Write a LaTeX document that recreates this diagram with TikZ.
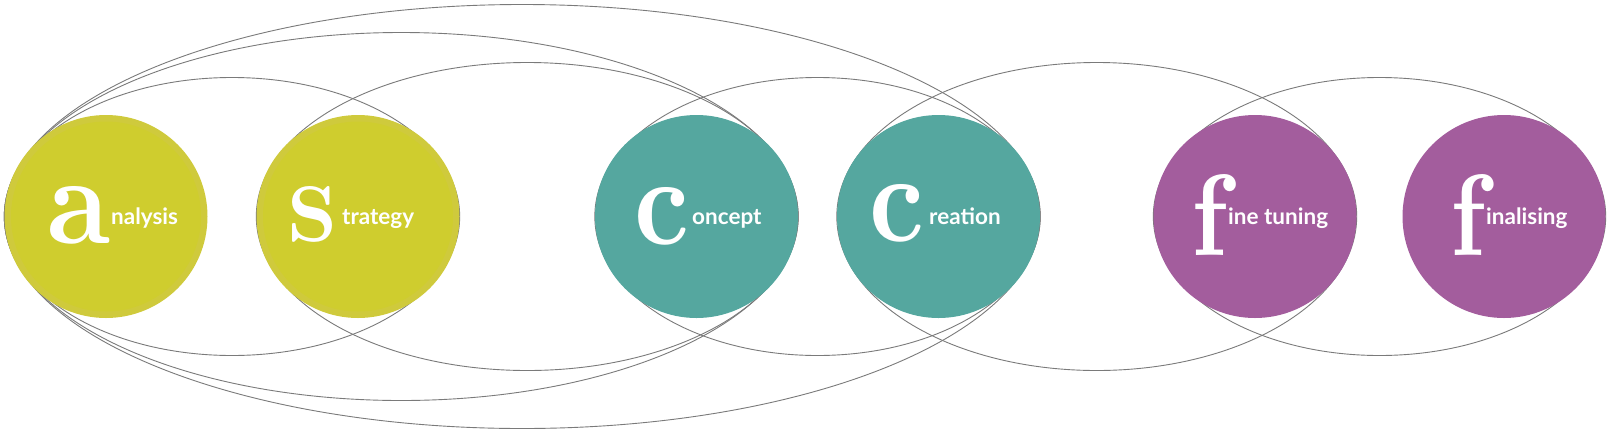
\documentclass[tikz,border=0pt]{standalone}
\usepackage{fontspec}
\usetikzlibrary{calc,backgrounds}
\newfontfamily\latofont{Lato}
\definecolor{cOlive}{HTML}{CFCD2E}
\definecolor{cOliveRim}{HTML}{CFCA3C}
\definecolor{cTeal}{HTML}{55A79F}
\definecolor{cPurple}{HTML}{A35D9D}
\definecolor{lineGray}{HTML}{7A7A7A}
\tikzset{
  stage/.style={circle, minimum size=203pt, inner sep=0pt, fill=#1},
  bigletter/.style={anchor=south west, inner sep=0pt, text=white, font=\rmfamily\bfseries},
  rest/.style={anchor=base west, inner sep=0pt, text=white, font=\latofont\bfseries\fontsize{22.5}{27}\selectfont},
  loopline/.style={draw=lineGray, line width=0.9pt},
}
\newcommand\loopellipse[3]{%
  \draw[loopline] let \p1=(#1.west), \p2=(#2.east) in
    ({(\x1+\x2)/2},\y1) ellipse [x radius={(\x2-\x1)/2}, y radius=#3];}
\begin{document}
\begin{tikzpicture}[x=1pt,y=1pt]
\useasboundingbox (0,0) rectangle (1611,-429);
% stages
\node[stage=cOliveRim] (an) at (106,-216.5) {};
\node[stage=cOliveRim] (st) at (358,-216.5) {};
\fill[cOlive] (an.center) circle (95pt);
\fill[cOlive] (st.center) circle (95pt);
\node[stage=cTeal] (co) at (696.5,-216.5) {};
\node[stage=cTeal] (cr) at (938.5,-216.5) {};
\node[stage=cPurple] (ft) at (1255,-216.5) {};
\node[stage=cPurple] (fi) at (1504,-216.5) {};
% loops behind the stages
\begin{scope}[on background layer]
  \loopellipse{an}{st}{139pt}
  \loopellipse{st}{co}{154pt}
  \loopellipse{an}{co}{184pt}
  \loopellipse{an}{cr}{212pt}
  \loopellipse{co}{cr}{139pt}
  \loopellipse{cr}{ft}{154pt}
  \loopellipse{ft}{fi}{139pt}
\end{scope}
% labels
\node[bigletter] (anL) at (47,-244) {\resizebox{63pt}{57pt}{a}};
\node[rest] (anT) at (111,-224.5) {nalysis};
\node[bigletter] (stL) at (287,-243) {\resizebox{50pt}{55pt}{S}};
\node[rest] (stT) at (342,-224.5) {trategy};
\node[bigletter] (coL) at (634,-245) {\resizebox{55pt}{57pt}{c}};
\node[rest] (coT) at (692,-224.5) {oncept};
\node[bigletter] (crL) at (869,-242) {\resizebox{55pt}{57pt}{c}};
\node[rest] (crT) at (929,-224.5) {reation};
\node[bigletter] (ftL) at (1191,-256) {\resizebox{36pt}{81pt}{f}};
\node[rest] (ftT) at (1228,-224.5) {ine tuning};
\node[bigletter] (fiL) at (1450,-256) {\resizebox{35pt}{81pt}{f}};
\node[rest] (fiT) at (1486,-224.5) {inalising};
\end{tikzpicture}
\end{document}
